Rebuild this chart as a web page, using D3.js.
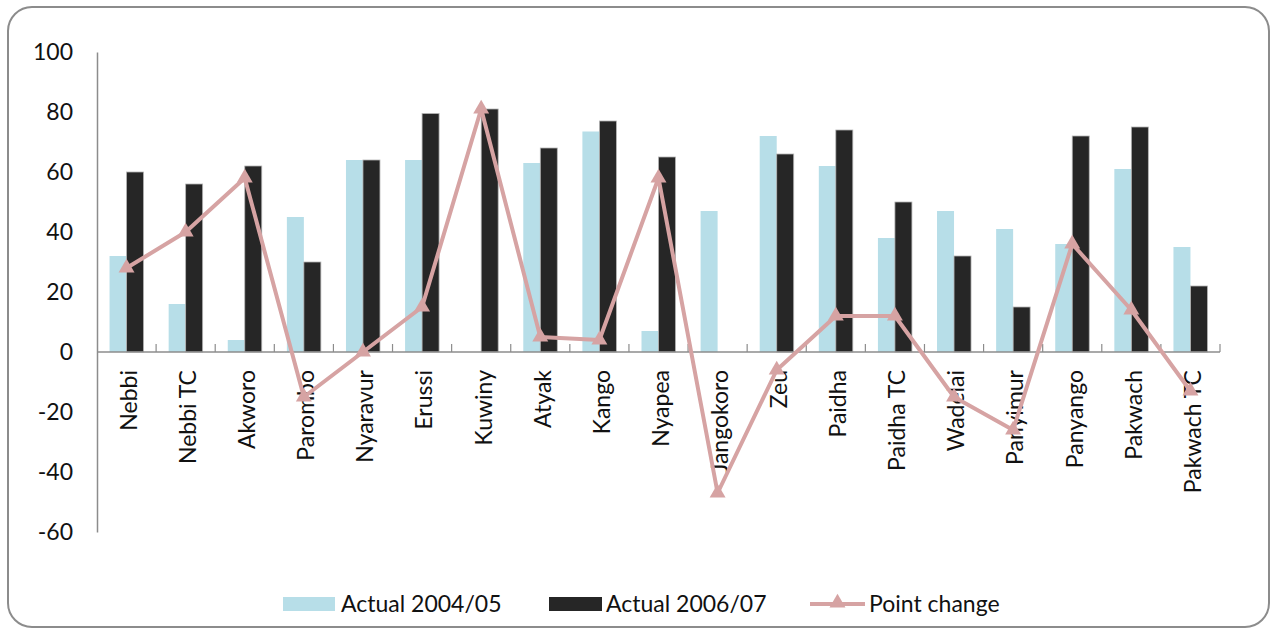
<!DOCTYPE html>
<html>
<head>
<meta charset="utf-8">
<script src="https://cdn.jsdelivr.net/npm/d3@7"></script>
<style>
  html, body { margin: 0; padding: 0; background: #ffffff; }
  svg { display: block; }
  text { font-family: Lato, "Open Sans", sans-serif; fill: #111; }
</style>
</head>
<body>
<script>
// Sub-county names along the x axis
const categories = ["Nebbi", "Nebbi TC", "Akworo", "Parombo", "Nyaravur", "Erussi", "Kuwiny",
  "Atyak", "Kango", "Nyapea", "Jangokoro", "Zeu", "Paidha", "Paidha TC", "Wadelai",
  "Panyimur", "Panyango", "Pakwach", "Pakwach TC"];

// Score in 2004/05
const actual2004 = [32, 16, 4, 45, 64, 64, 0, 63, 73.5, 7, 47, 72, 62, 38, 47, 41, 36, 61, 35];
// Score in 2006/07
const actual2006 = [60, 56, 62, 30, 64, 79.5, 81, 68, 77, 65, 0, 66, 74, 50, 32, 15, 72, 75, 22];
// Change in points between the two periods
const pointChange = [28, 40, 58, -15, 0, 15, 81, 5, 4, 58, -47, -6, 12, 12, -15, -26, 36, 14, -13];

const yTicks = [-60, -40, -20, 0, 20, 40, 60, 80, 100];
const seriesNames = ["Actual 2004/05", "Actual 2006/07", "Point change"];
const colors = { a2004: "#b7dee8", a2006: "#262626", change: "#d6a3a3" };

const W = 1277, H = 635;
const svg = d3.select("body").append("svg").attr("width", W).attr("height", H);

// rounded outer frame
svg.append("rect")
  .attr("x", 8).attr("y", 7).attr("width", W - 16).attr("height", H - 15)
  .attr("rx", 24).attr("ry", 24)
  .attr("fill", "#fff").attr("stroke", "#8c8c8c").attr("stroke-width", 2);

const plot = { left: 97, right: 1220, top: 52, bottom: 532 };

const x = d3.scaleBand().domain(categories).range([plot.left, plot.right]).paddingInner(0).paddingOuter(0);
const y = d3.scaleLinear().domain([-60, 100]).range([plot.bottom, plot.top]);
const barW = 17;

// y axis line and labels (plain hyphen for negatives)
const yAxis = d3.axisLeft(y).tickValues(yTicks).tickFormat(d => String(d)).tickSize(0).tickPadding(24);
const yg = svg.append("g").attr("transform", `translate(${plot.left},0)`).call(yAxis);
yg.select(".domain").attr("stroke", "#8c8c8c").attr("stroke-width", 1.5);
yg.selectAll("text").style("font-family", "Lato, sans-serif").style("font-size", "23px").attr("fill", "#111");

// bars
const g = svg.append("g");
g.selectAll("rect.a2004").data(categories).join("rect")
  .attr("class", "a2004")
  .attr("x", d => x(d) + x.bandwidth() / 2 - barW)
  .attr("width", barW)
  .attr("y", (d, i) => y(Math.max(0, actual2004[i])))
  .attr("height", (d, i) => Math.abs(y(actual2004[i]) - y(0)))
  .attr("fill", colors.a2004);

g.selectAll("rect.a2006").data(categories).join("rect")
  .attr("class", "a2006")
  .attr("x", d => x(d) + x.bandwidth() / 2)
  .attr("width", barW)
  .attr("y", (d, i) => y(Math.max(0, actual2006[i])))
  .attr("height", (d, i) => Math.abs(y(actual2006[i]) - y(0)))
  .attr("fill", colors.a2006)
  .attr("stroke", (d, i) => actual2006[i] ? "#b5b5b5" : "none")
  .attr("stroke-width", 0.8);

// x axis line with category-boundary ticks pointing up
const xg = svg.append("g");
xg.append("line")
  .attr("x1", plot.left).attr("x2", plot.right)
  .attr("y1", y(0)).attr("y2", y(0))
  .attr("stroke", "#8c8c8c").attr("stroke-width", 1.5);
const bounds = categories.map(c => x(c)).concat([plot.right]).slice(1);
xg.selectAll("line.tick").data(bounds).join("line")
  .attr("class", "tick")
  .attr("x1", d => d).attr("x2", d => d)
  .attr("y1", y(0)).attr("y2", y(0) - 8)
  .attr("stroke", "#8c8c8c").attr("stroke-width", 1.2);

// rotated category labels
xg.selectAll("text").data(categories).join("text")
  .attr("transform", d => `translate(${x(d) + x.bandwidth() / 2},370) rotate(-90)`)
  .attr("text-anchor", "end")
  .attr("dy", "0.45em")
  .style("font-size", "23px")
  .text(d => d);

// point change line with triangle markers
const cx = i => x(categories[i]) + x.bandwidth() / 2;
const line = d3.line().x((d, i) => cx(i)).y(d => y(d));
svg.append("path")
  .datum(pointChange)
  .attr("d", line)
  .attr("fill", "none")
  .attr("stroke", colors.change)
  .attr("stroke-width", 4)
  .attr("stroke-linejoin", "round");

const tri = d3.symbol().type(d3.symbolTriangle).size(110);
svg.selectAll("path.marker").data(pointChange).join("path")
  .attr("class", "marker")
  .attr("transform", (d, i) => `translate(${cx(i)},${y(d)})`)
  .attr("d", tri)
  .attr("fill", colors.change);

// legend
const lg = svg.append("g");
lg.append("rect").attr("x", 283).attr("y", 597).attr("width", 52).attr("height", 14).attr("fill", colors.a2004);
lg.append("text").attr("x", 341).attr("y", 612).style("font-size", "23px").text(seriesNames[0]);
lg.append("rect").attr("x", 549).attr("y", 597).attr("width", 53).attr("height", 14).attr("fill", colors.a2006);
lg.append("text").attr("x", 606).attr("y", 612).style("font-size", "23px").text(seriesNames[1]);
lg.append("line").attr("x1", 810).attr("x2", 865).attr("y1", 604).attr("y2", 604)
  .attr("stroke", colors.change).attr("stroke-width", 4);
lg.append("path").attr("transform", "translate(837.5,603)").attr("d", tri).attr("fill", colors.change);
lg.append("text").attr("x", 869).attr("y", 612).style("font-size", "23px").text(seriesNames[2]);
</script>
</body>
</html>
